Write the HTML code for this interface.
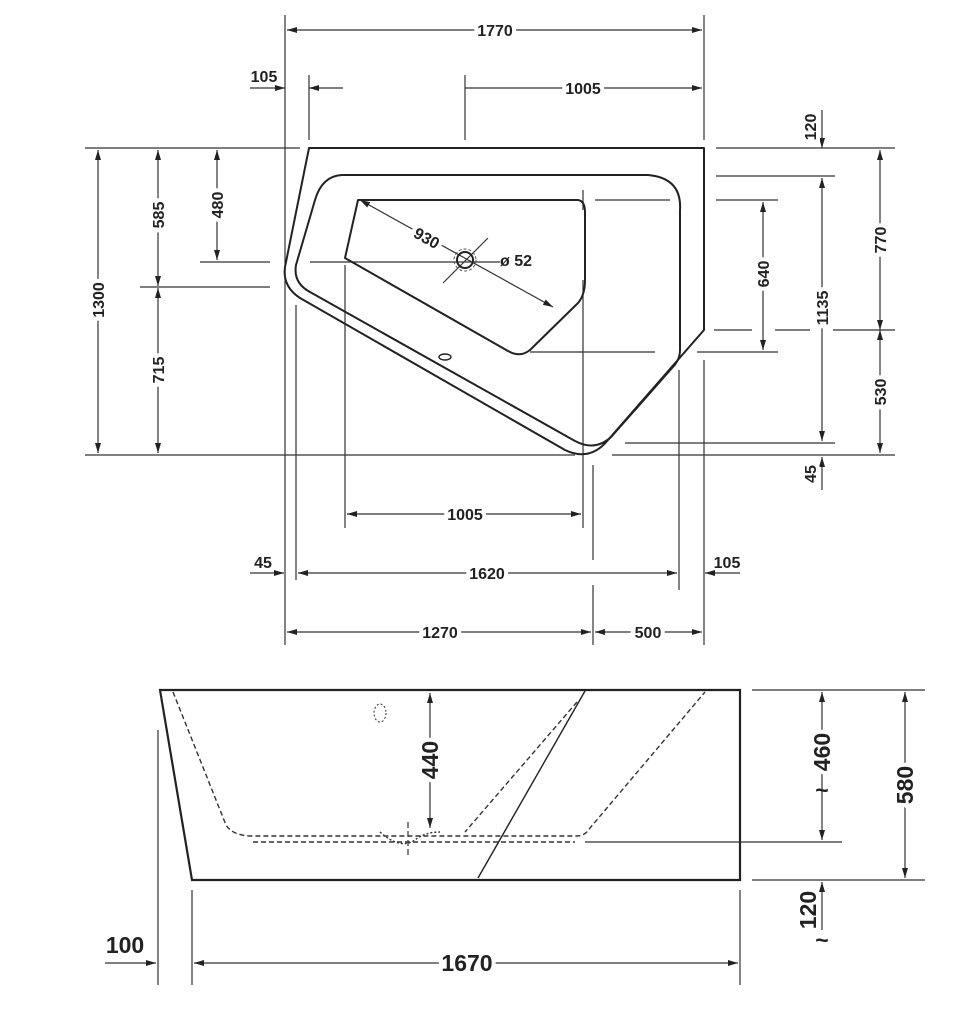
<!DOCTYPE html>
<html><head><meta charset="utf-8"><style>
html,body{margin:0;padding:0;background:#fff;}
svg{display:block}
text{font-family:"Liberation Sans",sans-serif;font-weight:bold;fill:#222;}
.t{font-size:16px;}
.b{font-size:23px;}
.g{paint-order:stroke;stroke:#fff;stroke-width:8px;}
</style></head><body>
<svg width="964" height="1024" viewBox="0 0 964 1024" xmlns="http://www.w3.org/2000/svg">
<defs>
<marker id="a" viewBox="0 0 10 6" refX="10" refY="3" markerWidth="10" markerHeight="6" orient="auto-start-reverse" markerUnits="userSpaceOnUse"><path d="M0,0 L10,3 L0,6 z" fill="#222"/></marker>
</defs>
<g stroke="#333" stroke-width="1.2" fill="none">
<!-- extension lines top view -->
<line x1="285" y1="15" x2="285" y2="645"/>
<line x1="704" y1="15" x2="704" y2="140"/>
<line x1="704" y1="360" x2="704" y2="645"/>
<line x1="309" y1="75" x2="309" y2="140"/>
<line x1="465" y1="75" x2="465" y2="140"/>
<line x1="85" y1="148" x2="300" y2="148"/>
<line x1="716" y1="148" x2="895" y2="148"/>
<line x1="716" y1="176" x2="835" y2="176"/>
<line x1="716" y1="200" x2="778" y2="200"/>
<line x1="595" y1="200" x2="670" y2="200"/>
<line x1="714" y1="330" x2="752" y2="330"/>
<line x1="775" y1="330" x2="810" y2="330"/>
<line x1="833" y1="330" x2="895" y2="330"/>
<line x1="530" y1="352" x2="655" y2="352"/>
<line x1="697" y1="352" x2="778" y2="352"/>
<line x1="625" y1="443" x2="835" y2="443"/>
<line x1="85" y1="455" x2="575" y2="455"/>
<line x1="612" y1="455" x2="895" y2="455"/>
<line x1="200" y1="262" x2="270" y2="262"/>
<line x1="310" y1="262" x2="500" y2="262"/>
<line x1="140" y1="287" x2="270" y2="287"/>
<line x1="296" y1="305" x2="296" y2="580"/>
<line x1="345" y1="265" x2="345" y2="528"/>
<line x1="583" y1="280" x2="583" y2="528"/>
<line x1="583" y1="190" x2="583" y2="210"/>
<line x1="593" y1="465" x2="593" y2="560"/>
<line x1="593" y1="585" x2="593" y2="645"/>
<line x1="679" y1="370" x2="679" y2="590"/>
<!-- dims top view -->
<line x1="287" y1="30" x2="702" y2="30" marker-start="url(#a)" marker-end="url(#a)"/>
<line x1="250" y1="88" x2="285" y2="88" marker-end="url(#a)"/>
<line x1="343" y1="88" x2="309" y2="88" marker-end="url(#a)"/>
<line x1="465" y1="88" x2="702" y2="88" marker-end="url(#a)"/>
<line x1="822" y1="110" x2="822" y2="148" marker-end="url(#a)"/>
<line x1="880" y1="150" x2="880" y2="330" marker-start="url(#a)" marker-end="url(#a)"/>
<line x1="880" y1="330" x2="880" y2="453" marker-start="url(#a)" marker-end="url(#a)"/>
<line x1="822" y1="178" x2="822" y2="441" marker-start="url(#a)" marker-end="url(#a)"/>
<line x1="822" y1="490" x2="822" y2="457" marker-end="url(#a)"/>
<line x1="763" y1="202" x2="763" y2="350" marker-start="url(#a)" marker-end="url(#a)"/>
<line x1="98" y1="150" x2="98" y2="453" marker-start="url(#a)" marker-end="url(#a)"/>
<line x1="158" y1="150" x2="158" y2="286" marker-start="url(#a)" marker-end="url(#a)"/>
<line x1="158" y1="288" x2="158" y2="453" marker-start="url(#a)" marker-end="url(#a)"/>
<line x1="217" y1="150" x2="217" y2="260" marker-start="url(#a)" marker-end="url(#a)"/>
<line x1="347" y1="514" x2="581" y2="514" marker-start="url(#a)" marker-end="url(#a)"/>
<line x1="250" y1="573" x2="284" y2="573" marker-end="url(#a)"/>
<line x1="298" y1="573" x2="677" y2="573" marker-start="url(#a)" marker-end="url(#a)"/>
<line x1="740" y1="573" x2="705" y2="573" marker-end="url(#a)"/>
<line x1="287" y1="632" x2="591" y2="632" marker-start="url(#a)" marker-end="url(#a)"/>
<line x1="595" y1="632" x2="702" y2="632" marker-start="url(#a)" marker-end="url(#a)"/>
<!-- 930 diagonal -->
<line x1="360" y1="200" x2="553" y2="307" marker-start="url(#a)" marker-end="url(#a)"/>
<line x1="443" y1="283" x2="488" y2="238"/>
</g>
<!-- tub outlines top -->
<g stroke="#222" stroke-width="2" fill="none" stroke-linejoin="round">
<path d="M309,148 L704,148 L704,330 L608,440 Q590,462 565,450 L300,298 Q280,285 286,262 Z"/>
<path d="M342,175 L648,175 Q682,178 680,210 L680,350 Q680,360 672,368 L612,436 Q596,452 575,441 L310,292 Q293,283 296,265 L315,200 Q322,176 342,175 Z"/>
<path d="M358,200 L578,200 Q585,201 585,212 L585,280 Q585,295 578,303 L530,350 Q520,358 508,351 L345,258 Z"/>
<circle cx="465" cy="260" r="8"/>
<ellipse cx="445" cy="357" rx="6" ry="3" stroke-width="1.4"/>
</g>
<circle cx="465" cy="260" r="11" stroke="#555" stroke-width="1" fill="none" stroke-dasharray="3,2"/>
<!-- side view -->
<g stroke="#222" stroke-width="2.2" fill="none">
<path d="M160,690 L740,690 L740,880 L192,880 Z"/>
</g>
<g stroke="#222" stroke-width="1.4" fill="none">
<line x1="585" y1="691" x2="478" y2="878"/>
</g>
<g stroke="#333" stroke-width="1.4" fill="none" stroke-dasharray="5,3">
<path d="M173,692 L226,825 Q232,835 250,836 L577,836 Q585,836 590,828 L705,692"/>
<path d="M577,702 L465,832"/>
<line x1="253" y1="842" x2="575" y2="842"/>
<path d="M380,832 Q400,850 415,840 Q425,832 440,832" stroke-dasharray="2,2"/>
<ellipse cx="380" cy="713" rx="6" ry="9" stroke-dasharray="2,2" stroke-width="1"/>
</g>
<g stroke="#333" stroke-width="1.2" fill="none">
<line x1="408" y1="822" x2="408" y2="858" stroke-dasharray="6,3"/>
<line x1="430" y1="693" x2="430" y2="828" marker-start="url(#a)" marker-end="url(#a)"/>
<line x1="752" y1="690" x2="925" y2="690"/>
<line x1="585" y1="842" x2="842" y2="842"/>
<line x1="752" y1="880" x2="925" y2="880"/>
<line x1="822" y1="692" x2="822" y2="840" marker-start="url(#a)" marker-end="url(#a)"/>
<line x1="905" y1="692" x2="905" y2="878" marker-start="url(#a)" marker-end="url(#a)"/>
<line x1="822" y1="930" x2="822" y2="882" marker-end="url(#a)"/>
<line x1="158" y1="730" x2="158" y2="985"/>
<line x1="192" y1="890" x2="192" y2="985"/>
<line x1="740" y1="890" x2="740" y2="985"/>
<line x1="105" y1="963" x2="156" y2="963" marker-end="url(#a)"/>
<line x1="194" y1="963" x2="738" y2="963" marker-start="url(#a)" marker-end="url(#a)"/>
</g>
<!-- text top -->
<text class="t g" x="495" y="36" text-anchor="middle">1770</text>
<text class="t" x="264" y="82" text-anchor="middle">105</text>
<text class="t g" x="583" y="94" text-anchor="middle">1005</text>
<text class="t g" transform="translate(816,127) rotate(-90)" text-anchor="middle">120</text>
<text class="t g" transform="translate(886,240) rotate(-90)" text-anchor="middle">770</text>
<text class="t g" transform="translate(886,392) rotate(-90)" text-anchor="middle">530</text>
<text class="t g" transform="translate(828,308) rotate(-90)" text-anchor="middle">1135</text>
<text class="t g" transform="translate(769,274) rotate(-90)" text-anchor="middle">640</text>
<text class="t g" transform="translate(816,474) rotate(-90)" text-anchor="middle">45</text>
<text class="t g" transform="translate(104,300) rotate(-90)" text-anchor="middle">1300</text>
<text class="t g" transform="translate(164,215) rotate(-90)" text-anchor="middle">585</text>
<text class="t g" transform="translate(164,370) rotate(-90)" text-anchor="middle">715</text>
<text class="t g" transform="translate(223,205) rotate(-90)" text-anchor="middle">480</text>
<text class="t g" transform="translate(424,243) rotate(29)" text-anchor="middle">930</text>
<text class="t" x="500" y="266">ø 52</text>
<text class="t g" x="465" y="520" text-anchor="middle">1005</text>
<text class="t g" x="487" y="579" text-anchor="middle">1620</text>
<text class="t" x="263" y="568" text-anchor="middle">45</text>
<text class="t" x="727" y="568" text-anchor="middle">105</text>
<text class="t g" x="440" y="638" text-anchor="middle">1270</text>
<text class="t g" x="648" y="638" text-anchor="middle">500</text>
<!-- text side -->
<text class="b g" transform="translate(438,760) rotate(-90)" text-anchor="middle">440</text>
<text class="b g" transform="translate(830,752) rotate(-90)" text-anchor="middle">460</text>
<text class="b" x="822" y="798" text-anchor="middle">~</text>
<text class="b g" transform="translate(913,785) rotate(-90)" text-anchor="middle">580</text>
<text class="b g" transform="translate(816,910) rotate(-90)" text-anchor="middle">120</text>
<text class="b" x="822" y="948" text-anchor="middle">~</text>
<text class="b" x="125" y="953" text-anchor="middle">100</text>
<text class="b g" x="467" y="971" text-anchor="middle">1670</text>
</svg>
</body></html>
